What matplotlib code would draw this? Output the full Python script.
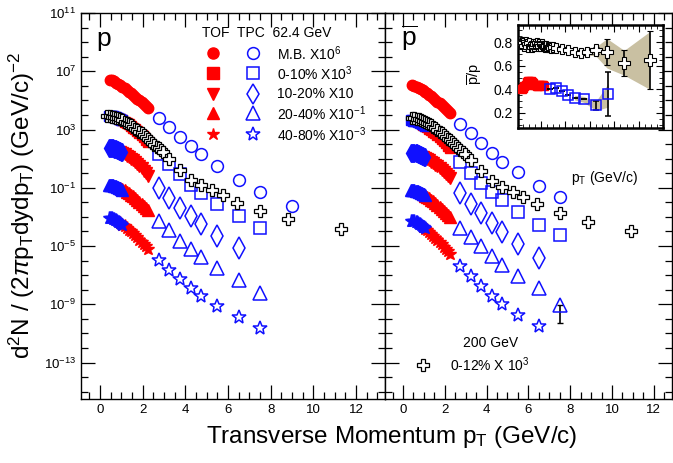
import numpy as np
import matplotlib
matplotlib.use("Agg")
import matplotlib.pyplot as plt
from matplotlib.ticker import FixedLocator, MultipleLocator, NullFormatter

plt.rcParams['font.family'] = ['Liberation Sans', 'DejaVu Sans']
plt.rcParams['mathtext.fontset'] = 'custom'
plt.rcParams['mathtext.rm'] = 'Liberation Sans'
plt.rcParams['mathtext.it'] = 'Liberation Sans:italic'
plt.rcParams['mathtext.sf'] = 'Liberation Sans'

# ---------------- data (log10 of yields) ----------------
pt_lo = [0.40, 0.45, 0.50, 0.55, 0.60, 0.65, 0.70, 0.75, 0.80, 0.85, 0.90, 0.95, 1.00, 1.05]
pt_tof_mb = [0.45, 0.55, 0.65, 0.75, 0.85, 0.95, 1.05, 1.15, 1.25, 1.35, 1.45, 1.55, 1.65, 1.75, 1.85, 1.95, 2.05, 2.15, 2.25]
pt_tof = [0.95, 1.05, 1.15, 1.25, 1.35, 1.45, 1.55, 1.65, 1.75, 1.85, 1.95, 2.05, 2.15, 2.25]
pt_hi = [2.75, 3.25, 3.75, 4.25, 4.75, 5.5, 6.5, 7.5, 9.0]

# proton, 62.4 GeV
p_mb_tof = [6.42, 6.37, 6.30, 6.22, 6.13, 6.03, 5.93, 5.83, 5.72, 5.61, 5.50, 5.38, 5.26, 5.13, 5.00, 4.88, 4.75, 4.62, 4.50]
p_mb_tpc = [3.78, 3.20, 2.52, 1.90, 1.31, 0.53, -0.45, -1.30, -2.22]
p_c010_lo = [3.95, 3.95, 3.94, 3.93, 3.91, 3.89, 3.87, 3.84, 3.81, 3.78, 3.75, 3.71, 3.67, 3.63]
p_c010_tof = [3.71, 3.63, 3.54, 3.45, 3.35, 3.24, 3.13, 3.01, 2.88, 2.75, 2.61, 2.46, 2.31, 2.12]
p_c010_tpc = [1.35, 0.65, -0.05, -0.80, -1.37, -2.10, -2.92, -3.77]
p_c1020_lo = [1.75, 1.75, 1.74, 1.73, 1.71, 1.69, 1.67, 1.64, 1.61, 1.58, 1.55, 1.51, 1.47, 1.43]
p_c1020_tof = [1.46, 1.38, 1.29, 1.20, 1.10, 0.99, 0.88, 0.76, 0.63, 0.50, 0.35, 0.17, 0.00, -0.18]
p_c1020_tpc = [-1.02, -1.71, -2.40, -2.97, -3.47, -4.29, -5.14]
p_c2040_lo = [-0.80, -0.80, -0.81, -0.82, -0.84, -0.86, -0.88, -0.91, -0.94, -0.97, -1.00, -1.04, -1.08, -1.12]
p_c2040_tof = [-1.00, -1.08, -1.17, -1.26, -1.36, -1.47, -1.58, -1.70, -1.83, -1.96, -2.10, -2.24, -2.38, -2.52]
p_c2040_tpc = [-3.25, -3.93, -4.62, -5.21, -5.76, -6.51, -7.31, -8.22]
p_c4080_lo = [-3.05, -3.06, -3.08, -3.10, -3.13, -3.16, -3.20, -3.24, -3.28, -3.33, -3.38, -3.43, -3.48, -3.53]
p_c4080_tof = [-3.45, -3.55, -3.65, -3.76, -3.88, -4.00, -4.13, -4.27, -4.41, -4.56, -4.71, -4.86, -5.01, -5.17]
p_c4080_tpc = [-5.94, -6.63, -7.26, -7.88, -8.41, -9.10, -9.87, -10.63]

# antiproton, 62.4 GeV
pb_mb_tof = [6.06, 6.01, 5.95, 5.88, 5.79, 5.70, 5.60, 5.50, 5.39, 5.28, 5.16, 5.04, 4.92, 4.79, 4.66, 4.53, 4.40, 4.27, 4.14]
pb_mb_tpc = [3.39, 2.75, 2.10, 1.42, 0.80, 0.07, -0.85, -1.60]
pb_c010_lo = [3.62, 3.62, 3.61, 3.60, 3.58, 3.56, 3.53, 3.50, 3.47, 3.43, 3.39, 3.35, 3.31, 3.27]
pb_c010_tof = [3.33, 3.25, 3.16, 3.06, 2.96, 2.85, 2.73, 2.61, 2.48, 2.34, 2.20, 2.05, 1.90, 1.74]
pb_c010_tpc = [0.80, 0.01, -0.68, -1.26, -1.83, -2.63, -3.54, -4.23]
pb_c1020_lo = [1.42, 1.42, 1.41, 1.40, 1.38, 1.36, 1.33, 1.30, 1.27, 1.23, 1.19, 1.15, 1.12, 1.10]
pb_c1020_tof = [1.12, 1.05, 0.97, 0.88, 0.79, 0.69, 0.58, 0.47, 0.35, 0.22, 0.09, -0.05, -0.19, -0.35]
pb_c1020_tpc = [-1.37, -2.10, -2.74, -3.42, -4.04, -4.84, -5.82]
pb_c2040_lo = [-1.15, -1.15, -1.16, -1.17, -1.19, -1.21, -1.24, -1.27, -1.30, -1.33, -1.37, -1.40, -1.44, -1.47]
pb_c2040_tof = [-1.45, -1.53, -1.62, -1.72, -1.83, -1.94, -2.06, -2.19, -2.32, -2.46, -2.60, -2.74, -2.88, -3.02]
pb_c2040_tpc = [-3.77, -4.38, -5.03, -5.67, -6.28, -7.04, -7.88, -9.03]
pb_c2040_err_lo = -10.28
pb_c4080_lo = [-3.25, -3.26, -3.28, -3.31, -3.34, -3.38, -3.42, -3.46, -3.51, -3.56, -3.61, -3.66, -3.71, -3.75]
pb_c4080_tof = [-3.72, -3.82, -3.93, -4.05, -4.17, -4.30, -4.44, -4.58, -4.73, -4.88, -5.04, -5.20, -5.36, -5.52]
pb_c4080_tpc = [-6.40, -7.09, -7.77, -8.41, -8.96, -9.71, -10.52]

# 200 GeV 0-12% x10^3 (crosses)
pt_200 = [0.35, 0.45, 0.55, 0.65, 0.75, 0.85, 0.95, 1.05, 1.15, 1.25, 1.35, 1.45, 1.55, 1.65, 1.75, 1.85,
          1.95, 2.05, 2.15, 2.25, 2.35, 2.45, 2.55, 2.65, 2.75, 2.85, 2.95, 3.25, 3.75, 4.25, 4.75, 5.25,
          5.75, 6.4, 7.5, 8.8, 11.3]
p_200 = [3.90, 3.90, 3.88, 3.85, 3.81, 3.76, 3.70, 3.63, 3.55, 3.47, 3.38, 3.28, 3.18, 3.07, 2.96, 2.85,
         2.73, 2.61, 2.48, 2.35, 2.22, 2.09, 1.96, 1.83, 1.70, 1.57, 1.44, 1.00, 0.25, -0.45, -0.80, -1.14,
         -1.48, -2.01, -2.58, -3.15, -3.84]
pt_200b = [0.45, 0.55, 0.65, 0.75, 0.85, 0.95, 1.05, 1.15, 1.25, 1.35, 1.45, 1.55, 1.65, 1.75, 1.85,
           1.95, 2.05, 2.15, 2.25, 2.35, 2.45, 2.55, 2.65, 2.75, 2.85, 2.95, 3.25, 3.75, 4.25, 4.75, 5.25,
           5.75, 6.4, 7.5, 8.87, 10.9]
pb_200 = [3.80, 3.78, 3.75, 3.71, 3.66, 3.60, 3.53, 3.45, 3.37, 3.28, 3.18, 3.08, 2.97, 2.86, 2.75,
          2.63, 2.51, 2.38, 2.25, 2.12, 1.99, 1.86, 1.73, 1.60, 1.47, 1.34, 0.90, 0.15, -0.55, -0.92, -1.27,
          -1.62, -2.10, -2.74, -3.36, -4.00]

# inset: pbar/p ratio
r62_tof = [0.40, 0.41, 0.43, 0.44, 0.46, 0.47, 0.47, 0.47, 0.46, 0.45, 0.44, 0.44, 0.43, 0.43, 0.44, 0.44, 0.44, 0.44, 0.43]
r62_tpc_pt = [2.75, 3.25, 3.75, 4.25, 4.75, 5.5, 6.5, 7.5]
r62_tpc = [0.40, 0.41, 0.39, 0.35, 0.33, 0.32, 0.265, 0.36]
r62_tpc_err = [0.0, 0.0, 0.0, 0.0, 0.0, 0.0, 0.04, 0.19]
r200_pt = [0.35, 0.45, 0.55, 0.65, 0.75, 0.85, 0.95, 1.05, 1.15, 1.25, 1.35, 1.45, 1.55, 1.65, 1.75, 1.85,
           1.95, 2.05, 2.15, 2.25, 2.35, 2.45, 2.55, 2.65, 2.75, 2.85, 2.95, 3.25, 3.75, 4.25, 4.75, 5.25, 5.75]
r200 = [0.78, 0.80, 0.79, 0.77, 0.80, 0.78, 0.76, 0.79, 0.77, 0.76, 0.78, 0.77, 0.78, 0.79, 0.77, 0.78,
        0.77, 0.78, 0.77, 0.77, 0.76, 0.77, 0.76, 0.76, 0.76, 0.75, 0.76, 0.75, 0.74, 0.73, 0.72, 0.71, 0.72]
r200_hi_pt = [6.5, 7.4, 8.8, 10.9]
r200_hi = [0.73, 0.72, 0.62, 0.65]
r200_hi_err = [0.03, 0.11, 0.11, 0.245]
band200_pt = [5.5, 6.5, 7.4, 8.8, 10.9]
band200_hi = [0.74, 0.76, 0.83, 0.73, 0.89]
band200_lo = [0.70, 0.68, 0.58, 0.52, 0.40]
band62_pt = [4.75, 5.5, 6.5, 7.5]
band62_hi = [0.35, 0.34, 0.30, 0.45]
band62_lo = [0.31, 0.29, 0.22, 0.25]

RED = '#ff0000'
BLUE = '#1010ff'
TAN = '#c9c0a2'

fig = plt.figure(figsize=(6.73, 4.63), dpi=100)
W, H = 673.0, 463.0
axL = fig.add_axes([81 / W, 1 - 399 / H, 304 / W, 386 / H])
axR = fig.add_axes([385 / W, 1 - 399 / H, 287 / W, 386 / H])


def L(v):
    return 10.0 ** np.asarray(v)


def draw_panel(ax, mb_tof, mb_tpc, s_lo, s_tof, s_tpc, d_lo, d_tof, d_tpc, t_lo, t_tof, t_tpc, st_lo, st_tof, st_tpc):
    # red TOF
    ax.plot(pt_tof_mb, L(mb_tof), ls='none', marker='o', ms=7.5, color=RED, zorder=3)
    ax.plot(pt_tof, L(s_tof), ls='none', marker='s', ms=7, color=RED, zorder=3)
    ax.plot(pt_tof, L(d_tof), ls='none', marker='v', ms=8.5, color=RED, zorder=3)
    ax.plot(pt_tof, L(t_tof), ls='none', marker='^', ms=8.5, color=RED, zorder=3)
    ax.plot(pt_tof, L(st_tof), ls='none', marker='*', ms=9.5, color=RED, zorder=3)
    # blue low-pT TPC
    ax.plot(pt_lo, L(s_lo), ls='none', marker='s', ms=7, color=BLUE, zorder=3)
    ax.plot(pt_lo, L(d_lo), ls='none', marker='d', ms=9, color=BLUE, zorder=3)
    ax.plot(pt_lo, L(t_lo), ls='none', marker='^', ms=8.5, color=BLUE, zorder=3)
    ax.plot(pt_lo, L(st_lo), ls='none', marker='*', ms=9.5, color=BLUE, zorder=3)
    # blue open high-pT
    kw = dict(ls='none', mfc='none', mec=BLUE, mew=1.1, zorder=3)
    ax.plot(pt_hi[:len(mb_tpc)], L(mb_tpc), marker='o', ms=8.5, **kw)
    ax.plot(pt_hi[:len(s_tpc)], L(s_tpc), marker='s', ms=8, **kw)
    ax.plot(pt_hi[:len(d_tpc)], L(d_tpc), marker='d', ms=11, **kw)
    ax.plot(pt_hi[:len(t_tpc)], L(t_tpc), marker='^', ms=9.5, **kw)
    ax.plot(pt_hi[:len(st_tpc)], L(st_tpc), marker='*', ms=10.5, **kw)


draw_panel(axL, p_mb_tof, p_mb_tpc, p_c010_lo, p_c010_tof, p_c010_tpc, p_c1020_lo, p_c1020_tof, p_c1020_tpc,
           p_c2040_lo, p_c2040_tof, p_c2040_tpc, p_c4080_lo, p_c4080_tof, p_c4080_tpc)
draw_panel(axR, pb_mb_tof, pb_mb_tpc, pb_c010_lo, pb_c010_tof, pb_c010_tpc, pb_c1020_lo, pb_c1020_tof, pb_c1020_tpc,
           pb_c2040_lo, pb_c2040_tof, pb_c2040_tpc, pb_c4080_lo, pb_c4080_tof, pb_c4080_tpc)
axL.plot(pt_200, L(p_200), ls='none', marker='P', ms=8, mfc='white', mec='black', mew=0.9, zorder=4)
axR.plot(pt_200b, L(pb_200), ls='none', marker='P', ms=8, mfc='white', mec='black', mew=0.9, zorder=4)
# error bar on last 20-40% pbar point
axR.errorbar([pt_hi[7]], [L(pb_c2040_tpc[7])],
             yerr=[[L(pb_c2040_tpc[7]) - L(pb_c2040_err_lo)], [0]], fmt='none', ecolor='black',
             elinewidth=1.2, capsize=2.5, zorder=2)

for ax in (axL, axR):
    ax.set_yscale('log')
    ax.set_ylim(10 ** -15.5, 1e11)
    ax.yaxis.set_major_locator(FixedLocator([10.0 ** k for k in (11, 7, 3, -1, -5, -9, -13)]))
    ax.yaxis.set_minor_locator(FixedLocator([10.0 ** k for k in range(-15, 11)]))
    ax.yaxis.set_minor_formatter(NullFormatter())
    ax.xaxis.set_major_locator(MultipleLocator(2))
    ax.xaxis.set_minor_locator(MultipleLocator(0.5))
    ax.tick_params(which='both', direction='in', top=True, right=True, labelsize=9.5, width=0.9)
    ax.tick_params(which='major', length=10)
    ax.tick_params(which='minor', length=5)
    for s in ax.spines.values():
        s.set_linewidth(1.0)
axL.set_xlim(-0.89, 13.36)
axR.set_xlim(-0.86, 12.87)
axR.tick_params(labelleft=False)
axL.set_yticklabels([r'$\mathregular{10^{%d}}$' % k for k in (11, 7, 3, -1, -5, -9, -13)])
axL.set_xticks([0, 2, 4, 6, 8, 10, 12])
axR.set_xticks([0, 2, 4, 6, 8, 10, 12])

# panel labels
axL.text(0.05, 0.915, 'p', transform=axL.transAxes, fontsize=19, ha='left', va='baseline')
axR.text(0.055, 0.915, r'$\overline{\mathregular{p}}$', transform=axR.transAxes, fontsize=19, ha='left', va='baseline')

# legend (left panel)
axL.text(0.397, 0.947, 'TOF  TPC  62.4 GeV', transform=axL.transAxes, fontsize=10, va='center', ha='left')
leg_rows = [('o', 'M.B. X10$^{6}$'), ('s', '0-10% X10$^{3}$'), ('d', '10-20% X10'),
            ('^', '20-40% X10$^{-1}$'), ('*', '40-80% X10$^{-3}$')]
red_mk = ['o', 's', 'v', '^', '*']
ys = [0.8956, 0.8438, 0.7894, 0.7402, 0.6857]
for (mk, lab), rmk, yy in zip(leg_rows, red_mk, ys):
    axL.plot([0.435], [yy], transform=axL.transAxes, marker=rmk, ms=9 if rmk in 'v^*' else 8,
             color=RED, ls='none', clip_on=False)
    axL.plot([0.567], [yy], transform=axL.transAxes, marker=mk, ms=10 if mk in 'd*^' else 8.5,
             mfc='none', mec=BLUE, mew=1.1, ls='none', clip_on=False)
    axL.text(0.645, yy, lab, transform=axL.transAxes, fontsize=10, va='center', ha='left')

# right panel texts
axR.text(0.765, 0.573, r'p$_\mathregular{T}$ (GeV/c)', transform=axR.transAxes, fontsize=10, ha='center', va='center')
axR.text(0.368, 0.145, '200 GeV', transform=axR.transAxes, fontsize=10, ha='center', va='center')
axR.plot([0.134], [0.088], transform=axR.transAxes, marker='P', ms=8, mfc='white', mec='black', mew=0.9, ls='none')
axR.text(0.228, 0.088, '0-12% X 10$^{3}$', transform=axR.transAxes, fontsize=10, ha='left', va='center')

# axis titles
fig.text(392 / W, 1 - 437 / H, r'Transverse Momentum p$_\mathregular{T}$ (GeV/c)', fontsize=17.5, ha='center', va='center')
fig.text(22 / W, 1 - 205 / H, r'd$^\mathregular{2}$N / (2$\pi$p$_\mathregular{T}$dydp$_\mathregular{T}$) (GeV/c)$^\mathregular{-2}$',
         fontsize=17.5, ha='center', va='center', rotation=90)

# inset
axI = fig.add_axes([517.7 / W, 1 - 128.3 / H, 145.6 / W, 103.3 / H])
axI.fill_between(band200_pt, band200_lo, band200_hi, color=TAN, lw=0, zorder=1)
axI.fill_between(band62_pt, band62_lo, band62_hi, color=TAN, lw=0, zorder=1)
axI.plot(pt_tof_mb[:len(r62_tof)], r62_tof, ls='none', marker='s', ms=6, color=RED, zorder=3)
axI.errorbar(r62_tpc_pt, r62_tpc, yerr=r62_tpc_err, fmt='s', ms=7, mfc='none', mec=BLUE, mew=1.1,
             ecolor='black', elinewidth=1.2, capsize=2.5, zorder=3)
axI.plot(r200_pt, r200, ls='none', marker='P', ms=7, mfc='white', mec='black', mew=0.8, zorder=4)
axI.errorbar(r200_hi_pt, r200_hi, yerr=r200_hi_err, fmt='P', ms=8, mfc='white', mec='black', mew=0.8,
             ecolor='black', elinewidth=1.2, capsize=2.5, zorder=4)
axI.set_xlim(0.1, 12)
axI.set_ylim(0.07, 0.945)
axI.yaxis.set_major_locator(FixedLocator([0.2, 0.4, 0.6, 0.8]))
axI.yaxis.set_minor_locator(MultipleLocator(0.05))
axI.xaxis.set_major_locator(MultipleLocator(2))
axI.xaxis.set_minor_locator(MultipleLocator(0.5))
axI.tick_params(which='both', direction='in', top=True, right=True, labelsize=10, labelbottom=False)
axI.tick_params(which='major', length=5)
axI.tick_params(which='minor', length=3)
axI.set_yticklabels(['0.2', '0.4', '0.6', '0.8'])
for s in axI.spines.values():
    s.set_linewidth(1.8)
fig.text(475 / W, 1 - 74 / H, r'$\overline{\mathregular{p}}$/p', fontsize=10.5, rotation=90, ha='center', va='center')

fig.savefig('out.png', dpi=100)
